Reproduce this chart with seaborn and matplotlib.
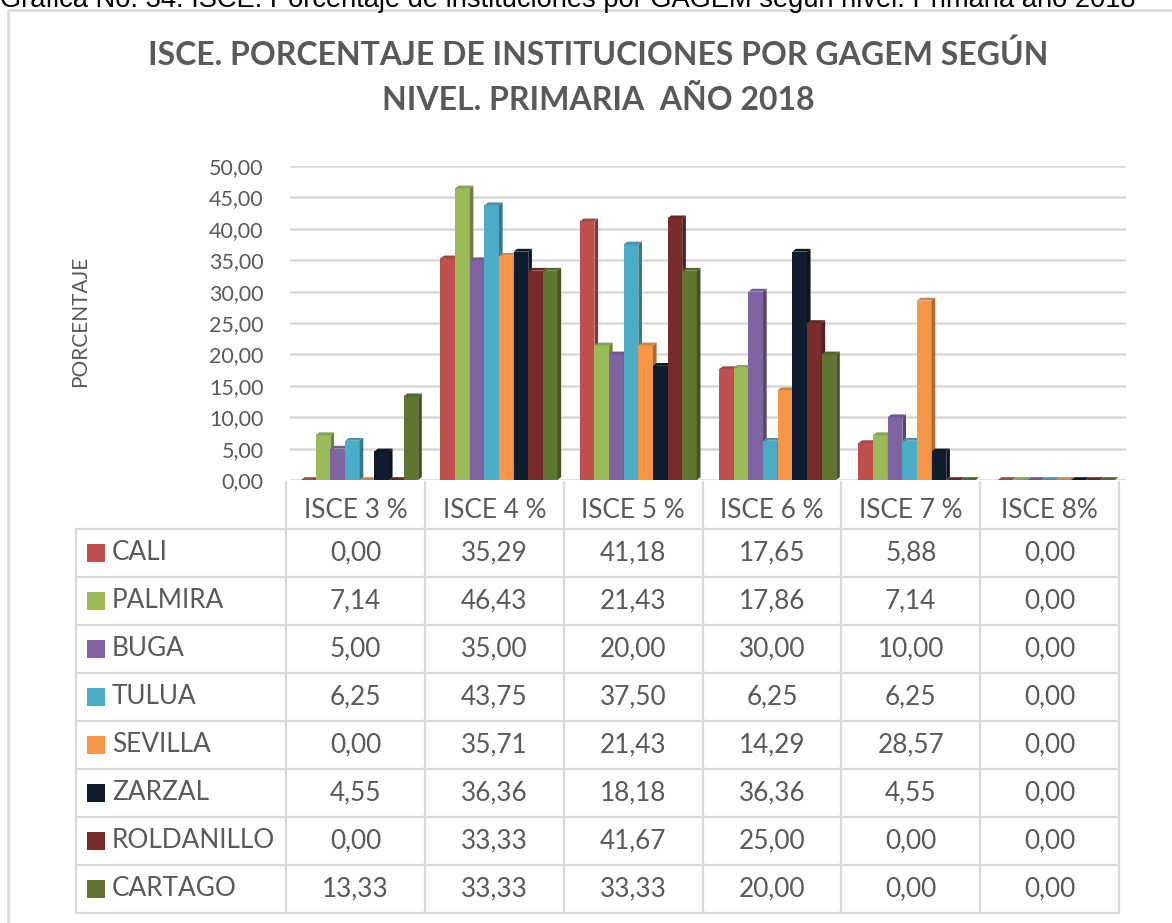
"""ISCE por GAGEM, primaria 2018: barras agrupadas + tabla de datos abajo."""
import numpy as np
import pandas as pd

import seaborn as sea
import matplotlib.pyplot as plt
from matplotlib.patches import Polygon, Rectangle
from matplotlib.colors import to_rgb

sea.set_style("white")
plt.rcParams["font.family"] = ["Lato", "DejaVu Sans"]

# ----------------------------------------------------------- data
niveles = ["ISCE 3 %", "ISCE 4 %", "ISCE 5 %", "ISCE 6 %", "ISCE 7 %", "ISCE 8%"]
gagem = ["CALI", "PALMIRA", "BUGA", "TULUA", "SEVILLA", "ZARZAL",
    "ROLDANILLO", "CARTAGO"]

cali       = [0.00, 35.29, 41.18, 17.65, 5.88, 0.00]
palmira    = [7.14, 46.43, 21.43, 17.86, 7.14, 0.00]
buga       = [5.00, 35.00, 20.00, 30.00, 10.00, 0.00]
tulua      = [6.25, 43.75, 37.50, 6.25, 6.25, 0.00]
sevilla    = [0.00, 35.71, 21.43, 14.29, 28.57, 0.00]
zarzal     = [4.55, 36.36, 18.18, 36.36, 4.55, 0.00]
roldanillo = [0.00, 33.33, 41.67, 25.00, 0.00, 0.00]
cartago    = [13.33, 33.33, 33.33, 20.00, 0.00, 0.00]

colores = ["#C0504D", "#9BBB59", "#8064A2", "#4BACC6", "#F79646", "#0F1D2E",
    "#772C2A", "#5F7530"]

valores = [cali, palmira, buga, tulua, sevilla, zarzal, roldanillo, cartago]
df = pd.DataFrame([
    {"gagem": g, "nivel": n, "pct": v}
    for g, vals in zip(gagem, valores)
    for n, v in zip(niveles, vals)
])

GRIS = "#595959"
LINEA = "#D9D9D9"
W, H = 1172, 923

fig = plt.figure(figsize=(W/100, H/100), dpi=100)

# helper: pixel box -> figure fraction
def px_axes(x0, y0, x1, y1):
    return fig.add_axes([x0/W, 1 - y1/H, (x1 - x0)/W, (y1 - y0)/H])

# ----------------------------------------------------------- bars
ax = px_axes(290, 166, 1126, 480)
sea.barplot(data=df, x="nivel", y="pct", hue="gagem",
    order=niveles, hue_order=gagem, palette=colores,
    width=0.84, saturation=1, legend=False, ax=ax)

# fake 3D: a darker right face and a top face on every bar
DX, DY = 0.026, 0.45
for i, cont in enumerate(ax.containers):
    for bar in cont:
        bar.set_zorder(3 + i)
        bar.set_linewidth(0)
        x0, w, h = bar.get_x(), bar.get_width(), bar.get_height()
        c = np.array(to_rgb(bar.get_facecolor()))
        side = Polygon([(x0+w, 0), (x0+w+DX, DY), (x0+w+DX, h+DY), (x0+w, h)],
            closed=True, fc=c*0.7, lw=0, zorder=3+i)
        top = Polygon([(x0, h), (x0+DX, h+DY), (x0+w+DX, h+DY), (x0+w, h)],
            closed=True, fc=np.clip(c*0.88, 0, 1), lw=0, zorder=3+i)
        ax.add_patch(side)
        ax.add_patch(top)

ax.set_ylim(0, 50)
ax.set_xlim(-0.5, 5.5)
ax.yaxis.set(major_locator=plt.MultipleLocator(5),
    major_formatter=plt.FuncFormatter(lambda v, _: f"{v:.2f}".replace(".", ",")))
ax.grid(axis="y", color=LINEA, lw=1.8, zorder=0)
ax.set_axisbelow(True)
ax.tick_params(axis="y", length=0, pad=19, labelsize=15.5, labelcolor=GRIS)
ax.set_xticks([])
ax.set_xlabel("")
ax.set_ylabel("")
sea.despine(ax=ax, left=True, bottom=True)

fig.text(80/W, 1 - 321/H, "PORCENTAJE", rotation=90, ha="center", va="center",
    fontsize=15, color=GRIS)

# ----------------------------------------------------------- titles / frame
fig.text(0/W, 1 - 7/H,
    "Gráfica No. 34. ISCE. Porcentaje de instituciones por GAGEM según nivel. Primaria año 2018",
    family=["Liberation Sans"], fontsize=19.6, va="baseline", color="black")
fig.text(598/W, 1 - 55/H, "ISCE. PORCENTAJE DE INSTITUCIONES POR GAGEM SEGÚN",
    ha="center", va="center", fontsize=23, fontweight="bold", color=GRIS)
fig.text(598/W, 1 - 100/H, "NIVEL. PRIMARIA  AÑO 2018",
    ha="center", va="center", fontsize=23, fontweight="bold", color=GRIS)

# ----------------------------------------------------------- data table
tab = fig.add_axes([0, 0, 1, 1])
tab.set_xlim(0, W)
tab.set_ylim(H, 0)
tab.axis("off")

tab.plot([8, W], [10, 10], color=LINEA, lw=1.8)
tab.plot([8, 8], [10, H], color=LINEA, lw=1.8)

col_edges = np.linspace(286, 1119, len(niveles) + 1)
row_edges = 529 + 48*np.arange(len(gagem) + 1)
for x in col_edges:
    tab.plot([x, x], [482, row_edges[-1]], color=LINEA, lw=1.6)
tab.plot([76, 76], [row_edges[0], row_edges[-1]], color=LINEA, lw=1.6)
for y in row_edges:
    tab.plot([76, col_edges[-1]], [y, y], color=LINEA, lw=1.6)

col_mid = (col_edges[:-1] + col_edges[1:]) / 2
row_mid = (row_edges[:-1] + row_edges[1:]) / 2
for xm, n in zip(col_mid, niveles):
    tab.text(xm, 511, n, ha="center", va="center", fontsize=18.8, color=GRIS)
for ym, g, col, vals in zip(row_mid, gagem, colores, valores):
    tab.add_patch(Rectangle((87, ym - 9), 18, 18, fc=col, lw=0))
    tab.text(112, ym, g, ha="left", va="center", fontsize=18.8, color=GRIS)
    for xm, v in zip(col_mid, vals):
        tab.text(xm, ym, f"{v:.2f}".replace(".", ","), ha="center", va="center",
            fontsize=18.8, color=GRIS)

plt.savefig("out.png", dpi=100)
plt.close()
